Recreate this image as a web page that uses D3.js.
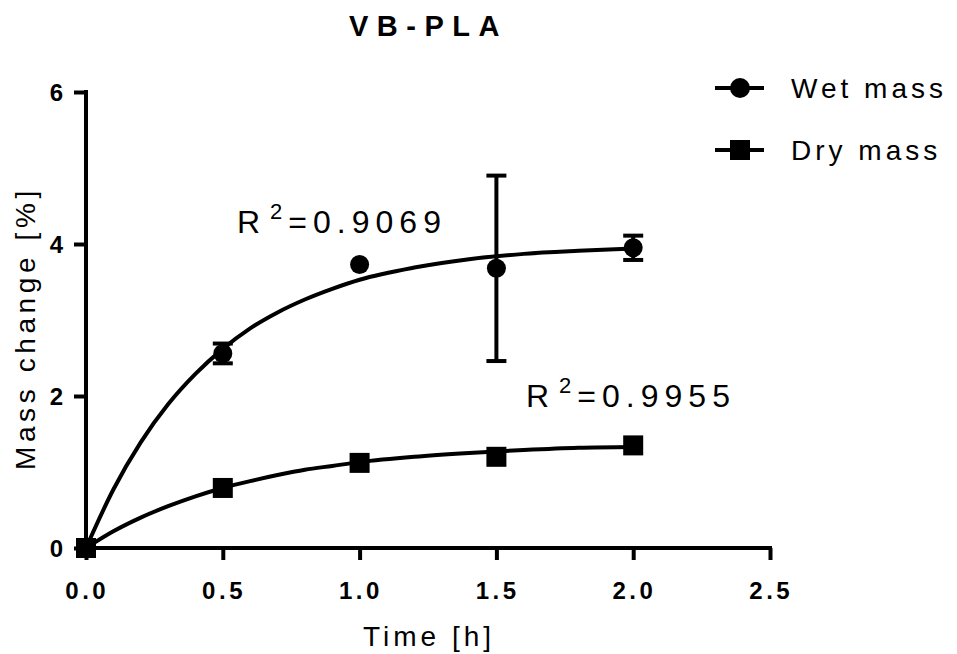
<!DOCTYPE html>
<html><head><meta charset="utf-8">
<script src="https://cdn.jsdelivr.net/npm/d3@7/dist/d3.min.js"></script>
<style>body{margin:0;background:#fff}svg{display:block}</style>
</head><body>
<svg id="c" width="957" height="654"></svg>
<script>
// ---- data ----
const timePoints = [0, 0.5, 1.0, 1.5, 2.0];
const wetMass = [0, 2.56, 3.73, 3.68, 3.95];
const wetErr = [0, 0.13, 0, 1.22, 0.16];
const dryMass = [0, 0.79, 1.12, 1.20, 1.35];
const dryErr = [0, 0, 0, 0, 0];
const fitTimes = [0, 0.1, 0.2, 0.3, 0.4, 0.5, 0.6, 0.7, 0.8, 0.9, 1.0, 1.2, 1.4, 1.6, 1.8, 2.0];
const wetFit = [0, 0.77, 1.39, 1.89, 2.29, 2.62, 2.89, 3.10, 3.27, 3.41, 3.53, 3.69, 3.80, 3.87, 3.91, 3.94];
const dryFit = [0, 0.22, 0.40, 0.55, 0.68, 0.79, 0.88, 0.96, 1.03, 1.08, 1.13, 1.20, 1.25, 1.29, 1.32, 1.33];
const xTicks = [0, 0.5, 1.0, 1.5, 2.0, 2.5];
const yTicks = [0, 2, 4, 6];
const seriesNames = ["Wet mass", "Dry mass"];
const r2Labels = ["0.9069", "0.9955"];

const svg = d3.select("#c");
const x = d3.scaleLinear().domain([0, 2.5]).range([86, 770]);
const y = d3.scaleLinear().domain([0, 6]).range([548, 92]);
const font = "'Liberation Sans', Arial, sans-serif";

// title
svg.append("text").attr("x", 349).attr("y", 36)
  .attr("font-family", font).attr("font-weight", "bold").attr("font-size", 29)
  .attr("letter-spacing", 8.5).text("VB-PLA");

// axes
const tickSp = 3.5;
const xAxis = svg.append("g").attr("transform", `translate(0,${y(0)})`)
  .call(d3.axisBottom(x).tickValues(xTicks).tickFormat(d3.format(".1f")).tickSize(12).tickSizeOuter(0));
const yAxis = svg.append("g").attr("transform", `translate(${x(0)},0)`)
  .call(d3.axisLeft(y).tickValues(yTicks).tickFormat(d3.format("d")).tickSize(12).tickSizeOuter(0));
[xAxis, yAxis].forEach(g => {
  g.select(".domain").attr("stroke", "#000").attr("stroke-width", 4);
  g.selectAll(".tick line").attr("stroke", "#000").attr("stroke-width", 4);
  g.selectAll(".tick text").style("font-family", font).style("font-weight", "bold")
    .style("font-size", "24px").attr("fill", "#000").style("letter-spacing", tickSp + "px");
});
xAxis.select(".domain").attr("d", `M${x(0)-2},0H${x(2.5)+2}`);
yAxis.select(".domain").attr("d", `M0,${y(6)-2}V${y(0)+2}`);
xAxis.selectAll(".tick text").attr("y", 51).attr("dy", null).attr("x", tickSp / 2 - 1);
yAxis.selectAll(".tick text").attr("x", -19.5).attr("dy", "0.35em");

// axis titles
svg.append("text").attr("x", 363).attr("y", 646)
  .attr("font-family", font).attr("font-size", 28).attr("letter-spacing", 4).text("Time [h]");
svg.append("text").attr("transform", `translate(35,470) rotate(-90)`)
  .attr("font-family", font).attr("font-size", 28)
  .attr("letter-spacing", 4.6).text("Mass change [%]");

// fit curves
const line = d3.line().x((d, i) => x(fitTimes[i])).y(d => y(d)).curve(d3.curveMonotoneX);
[wetFit, dryFit].forEach(f => {
  svg.append("path").attr("d", line(f)).attr("fill", "none").attr("stroke", "#000").attr("stroke-width", 4);
});

// error bars
function errBars(vals, errs) {
  vals.forEach((v, i) => {
    if (!errs[i]) return;
    const cx = x(timePoints[i]);
    const g = svg.append("g").attr("stroke", "#000").attr("stroke-width", 4);
    g.append("line").attr("x1", cx).attr("x2", cx).attr("y1", y(v + errs[i])).attr("y2", y(v - errs[i]));
    [v + errs[i], v - errs[i]].forEach(e => g.append("line").attr("x1", cx - 10).attr("x2", cx + 10).attr("y1", y(e)).attr("y2", y(e)));
  });
}
errBars(wetMass, wetErr);
errBars(dryMass, dryErr);

// markers
svg.selectAll(".wet").data(wetMass).enter().append("circle")
  .attr("cx", (d, i) => x(timePoints[i])).attr("cy", d => y(d)).attr("r", 9.5).attr("fill", "#000");
svg.selectAll(".dry").data(dryMass).enter().append("rect")
  .attr("x", (d, i) => x(timePoints[i]) - 10).attr("y", d => y(d) - 10)
  .attr("width", 20).attr("height", 20).attr("fill", "#000");

// R2 labels
function r2(xp, yp, val) {
  const t = svg.append("text").attr("x", xp).attr("y", yp).attr("font-family", font)
    .attr("font-size", 32).attr("letter-spacing", 6);
  t.append("tspan").text("R");
  t.append("tspan").attr("font-size", 22).attr("dx", 4).attr("dy", -14).text("2");
  t.append("tspan").attr("dy", 14).text("=" + val);
}
r2(237, 233, r2Labels[0]);
r2(526, 407, r2Labels[1]);

// legend
seriesNames.forEach((name, i) => {
  const ly = 88 + i * 62;
  svg.append("line").attr("x1", 715).attr("x2", 764).attr("y1", ly).attr("y2", ly)
    .attr("stroke", "#000").attr("stroke-width", 4);
  if (i === 0) svg.append("circle").attr("cx", 740).attr("cy", ly).attr("r", 10).attr("fill", "#000");
  else svg.append("rect").attr("x", 730).attr("y", ly - 10).attr("width", 20).attr("height", 20).attr("fill", "#000");
  svg.append("text").attr("x", 791).attr("y", ly + 10).attr("font-family", font)
    .attr("font-size", 28).attr("letter-spacing", 4).text(name);
});
</script>
</body></html>
